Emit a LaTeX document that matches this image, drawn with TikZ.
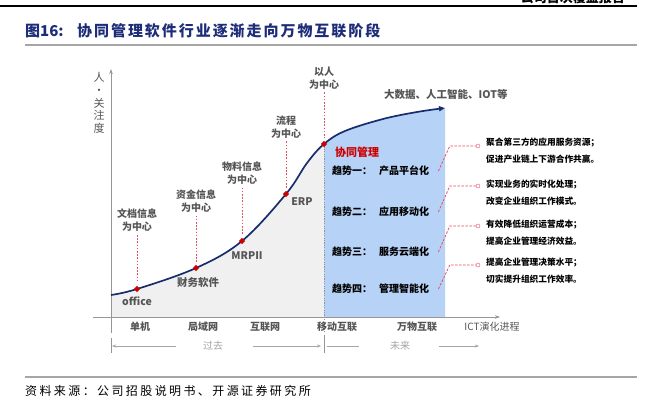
\documentclass[tikz,border=0pt]{standalone}
\usepackage{fontspec}
\setmainfont{Noto Sans CJK SC}
\usetikzlibrary{arrows.meta,shapes.geometric,positioning}

\definecolor{navy}{RGB}{25,45,110}
\definecolor{ttlblue}{RGB}{30,45,120}
\definecolor{areagray}{RGB}{240,240,240}
\definecolor{areablue}{RGB}{183,210,247}
\definecolor{txtgray}{RGB}{85,85,85}
\definecolor{axisgray}{RGB}{150,150,150}
\definecolor{faintgray}{RGB}{165,165,165}
\definecolor{ptred}{RGB}{205,0,0}
\definecolor{pinkred}{RGB}{228,80,100}

\begin{document}
\begin{tikzpicture}
  [x=1pt, y=-1pt, every node/.style={inner sep=1pt},
   dot/.style={diamond, fill=ptred, inner sep=0pt, minimum size=6.5pt},
   lbl/.style={align=center, text=txtgray, font=\fontsize{10}{13}\selectfont\bfseries},
   ptlbl/.style={text=txtgray, font=\fontsize{10.5}{12}\selectfont\bfseries},
   xlbl/.style={text=txtgray, font=\fontsize{10}{12}\selectfont\bfseries},
   trend/.style={anchor=west, font=\fontsize{10}{12}\selectfont\bfseries},
   note/.style={anchor=west, align=left, font=\fontsize{8.7}{17}\selectfont\bfseries},
   faint/.style={text=faintgray, font=\fontsize{10}{12}\selectfont},
   ring/.style={circle, draw=pinkred, fill=white, inner sep=0pt, minimum size=4pt},
   axis/.style={draw=axisgray, line width=.8pt},
   farrow/.style={draw=faintgray, line width=.7pt},
   reddot/.style={draw=pinkred, line width=.9pt, dash pattern=on 1.6pt off 1.6pt},
   reddash/.style={draw=pinkred, line width=.8pt, dash pattern=on 2.5pt off 1.5pt},
   rule/.style={draw=gray!70, line width=1.4pt}]

  \useasboundingbox (0,0) rectangle (654,399);

  % Cabecera
  \draw[line width=1.6pt] (0,6) -- (637,6);
  \node[anchor=base east, inner sep=0pt, font=\fontsize{13}{13}\selectfont\bfseries] (hdr) at (625,2.5) {公司首次覆盖报告};
  \node[anchor=west, inner sep=0pt, text=ttlblue, font=\fontsize{15}{15}\selectfont\bfseries] (fig) at (25,31) {图16:};
  \node[anchor=west, inner sep=0pt, text=ttlblue, font=\fontsize{15}{15}\selectfont\bfseries\addfontfeature{LetterSpace=13}] (ttl) at (77,31) {协同管理软件行业逐渐走向万物互联阶段};
  \draw[rule] (25,45) -- (637,45);

  % Puntos de la curva
  \coordinate (p0) at (111,295);
  \coordinate (p1) at (137,289);
  \coordinate (p2) at (196,268);
  \coordinate (p3) at (242,241);
  \coordinate (p4) at (286,194);
  \coordinate (m1) at (307,163);
  \coordinate (p5) at (324,144);
  \coordinate (q1) at (345,131);
  \coordinate (q2) at (383,119);
  \coordinate (q3) at (417,112);
  \coordinate (q4) at (445,108);
  \coordinate (o) at (111,317);
  \coordinate (ob) at (445,317);

  % Areas
  \fill[areagray] (o) -- plot[smooth, tension=.6] coordinates {(p0) (p1) (p2) (p3) (p4) (m1) (p5) (q1) (q2) (q3) (q4)} -- (ob) -- cycle;
  \begin{scope}
    \clip (324,60) rectangle (446,317);
    \fill[areablue] (o) -- plot[smooth, tension=.6] coordinates {(p0) (p1) (p2) (p3) (p4) (m1) (p5) (q1) (q2) (q3) (q4)} -- (ob) -- cycle;
  \end{scope}
  \draw[axisgray, line width=.7pt, dash pattern=on 1.2pt off 1.2pt] (p5) -- (324,333);

  % Ejes
  \draw[axis, -{Stealth[length=5pt, width=3.5pt]}] (111,333) -- (111,69) coordinate (ytop);
  \draw[axis, -{Stealth[length=5pt, width=3.5pt]}] (93,317) -- (500,317) coordinate (xend);
  \node[align=center, text=txtgray, font=\fontsize{11}{12.8}\selectfont] (ylab) at (99,103) {人\\·\\关\\注\\度};

  % Curva
  \draw[navy, line width=1.7pt, -{Triangle[length=6pt, width=5pt]}] plot[smooth, tension=.6] coordinates {(p0) (p1) (p2) (p3) (p4) (m1) (p5) (q1) (q2) (q3) (q4)};

  % Hitos
  \node[lbl] (l1) at (137,220.5) {文档信息\\为中心};
  \node[lbl] (l2) at (196,201) {资金信息\\为中心};
  \node[lbl] (l3) at (242,173) {物料信息\\为中心};
  \node[lbl] (l4) at (286,127) {流程\\为中心};
  \node[lbl] (l5) at (324,78) {以人\\为中心};

  \node[dot] (d1) at (p1) {};
  \node[dot] (d2) at (p2) {};
  \node[dot] (d3) at (p3) {};
  \node[dot] (d4) at (p4) {};
  \node[dot] (d5) at (p5) {};

  \foreach \from/\to in {l1/d1, l2/d2, l3/d3, l4/d4, l5/d5}
    \draw[reddot, shorten <=2pt, shorten >=3pt] (\from) -- (\to);

  \node[ptlbl] (e1) at (137,301) {office};
  \node[ptlbl] (e2) at (198,283) {财务软件};
  \node[ptlbl] (e3) at (247,256) {MRPII};
  \node[ptlbl] (e4) at (302,202) {ERP};
  \node[anchor=west, text=ptred, font=\fontsize{11}{12}\selectfont\bfseries] (xt) at (334,152) {协同管理};
  \node[anchor=west, text=txtgray, font=\fontsize{10.5}{12}\selectfont\bfseries] (tech) at (383,94) {大数据、人工智能、IOT等};

  % Tendencias
  \node[trend] (t1) at (331,171) {趋势一：\hspace{7pt}产品平台化};
  \node[trend] (t2) at (331,212) {趋势二：\hspace{7pt}应用移动化};
  \node[trend] (t3) at (331,252) {趋势三：\hspace{7pt}服务云端化};
  \node[trend] (t4) at (331,289) {趋势四：\hspace{7pt}管理智能化};

  \node[ring] (r1) at (478,146) {};
  \node[ring] (r2) at (478,186) {};
  \node[ring] (r3) at (478,226) {};
  \node[ring] (r4) at (478,265) {};

  \foreach \from/\to in {t1/r1, t2/r2, t3/r3, t4/r4}
    \draw[reddash] ([xshift=8pt]\from.east) -- ([xshift=-26pt]\to.west) -- (\to.west);

  \node[note] (n1) at (485,151) {聚合第三方的应用服务资源；\\促进产业链上下游合作共赢。};
  \node[note] (n2) at (485,192.5) {实现业务的实时化处理；\\改变企业组织工作模式。};
  \node[note] (n3) at (485,232.5) {有效降低组织运营成本；\\提高企业管理经济效益。};
  \node[note] (n4) at (485,271) {提高企业管理决策水平；\\切实提升组织工作效率。};

  % Eje horizontal
  \node[xlbl] (x1) at (140,327) {单机};
  \node[xlbl] (x2) at (203,327) {局域网};
  \node[xlbl] (x3) at (265,327) {互联网};
  \node[xlbl] (x4) at (337,327) {移动互联};
  \node[xlbl] (x5) at (417,327) {万物互联};
  \node[text=txtgray, font=\fontsize{10}{12}\selectfont] (x6) at (492,327) {ICT演化进程};

  % Pasado / futuro
  \coordinate (s0) at (111,346);
  \coordinate (s1) at (324,346);
  \coordinate (s2) at (479,346);
  \draw[axis] (111,338) -- (111,353);
  \draw[axis] (324,335) -- (324,353);
  \node[faint] (past) at (213,346) {过去};
  \node[faint] (fut) at (400,346) {未来};
  \draw[farrow, -{Stealth[length=4pt, width=3pt]}, shorten <=26pt, shorten >=1pt] (past) -- (s0);
  \draw[farrow, -{Stealth[length=4pt, width=3pt]}, shorten <=29pt, shorten >=3pt] (past) -- (s1);
  \draw[farrow, shorten <=30pt, shorten >=3pt] (fut) -- (s1);
  \draw[farrow, -{Stealth[length=4pt, width=3pt]}, shorten <=28pt] (fut) -- (s2);

  % Fuente
  \draw[rule] (25,377) -- (637,377);
  \node[anchor=west, inner sep=0pt, font=\fontsize{12}{12}\selectfont\addfontfeature{LetterSpace=20}] (src) at (25,391) {资料来源：公司招股说明书、开源证券研究所};
\end{tikzpicture}
\end{document}
